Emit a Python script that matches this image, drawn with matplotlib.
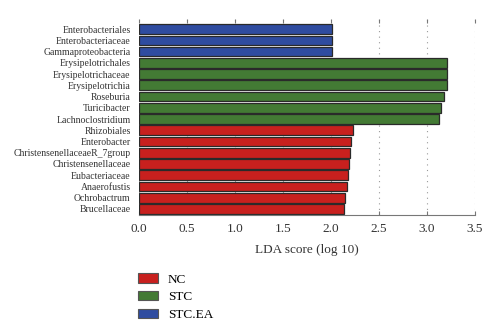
import matplotlib
matplotlib.use('Agg')
import matplotlib.pyplot as plt
from matplotlib.patches import Patch

plt.rcParams['font.family'] = ['Liberation Serif', 'DejaVu Serif']

# taxa from top to bottom, with LDA scores and group
taxa = ['Enterobacteriales', 'Enterobacteriaceae', 'Gammaproteobacteria',
        'Erysipelotrichales', 'Erysipelotrichaceae', 'Erysipelotrichia',
        'Roseburia', 'Turicibacter', 'Lachnoclostridium',
        'Rhizobiales', 'Enterobacter', 'ChristensenellaceaeR_7group',
        'Christensenellaceae', 'Eubacteriaceae', 'Anaerofustis',
        'Ochrobactrum', 'Brucellaceae']
scores = [2.01, 2.01, 2.01,
          3.21, 3.21, 3.21, 3.18, 3.15, 3.13,
          2.23, 2.21, 2.20, 2.19, 2.18, 2.17, 2.15, 2.14]
groups = ['STC.EA'] * 3 + ['STC'] * 6 + ['NC'] * 8
group_names = ['NC', 'STC', 'STC.EA']
group_colors = {'NC': '#c8201e', 'STC': '#437a34', 'STC.EA': '#2f4ca0'}
xticks = [0.0, 0.5, 1.0, 1.5, 2.0, 2.5, 3.0, 3.5]

fig = plt.figure(figsize=(5, 3.33), dpi=100)
ax = fig.add_axes([0.278, 0.354, 0.672, 0.589])

ypos = list(range(len(taxa)))
ax.barh(ypos, scores, height=0.86,
        color=[group_colors[g] for g in groups],
        edgecolor='#2a2a2a', linewidth=0.9, zorder=2)

ax.set_xlim(0, 3.5)
ax.set_ylim(16.55, -0.9)
ax.set_yticks(ypos)
ax.set_yticklabels(taxa, fontsize=7, color='#333333')
ax.set_xticks(xticks)
ax.set_xticklabels([f'{t:.1f}' for t in xticks], fontsize=9.5, color='#333333')
ax.set_xlabel('LDA score (log 10)', fontsize=9.5, color='#333333', labelpad=6)

ax.tick_params(axis='y', length=0, pad=6)
ax.tick_params(axis='x', direction='in', top=True, length=3, width=0.8,
               colors='#777777', labelcolor='#333333', pad=6)
ax.xaxis.grid(True, linestyle=(0, (1, 4)), color='#999999', linewidth=0.8, zorder=0)

for s in ['left', 'right', 'top']:
    ax.spines[s].set_visible(False)
ax.spines['bottom'].set_color('#777777')
ax.spines['bottom'].set_linewidth(0.8)

handles = [Patch(facecolor=group_colors[g], edgecolor='#555555', linewidth=0.8)
           for g in group_names]
fig.legend(handles, group_names, loc='lower left', bbox_to_anchor=(0.253, 0.0),
           frameon=False, fontsize=9.5, handlelength=1.45, handleheight=0.7,
           labelspacing=0.42, handletextpad=0.8)

fig.savefig('out.png', dpi=100, facecolor='white')
